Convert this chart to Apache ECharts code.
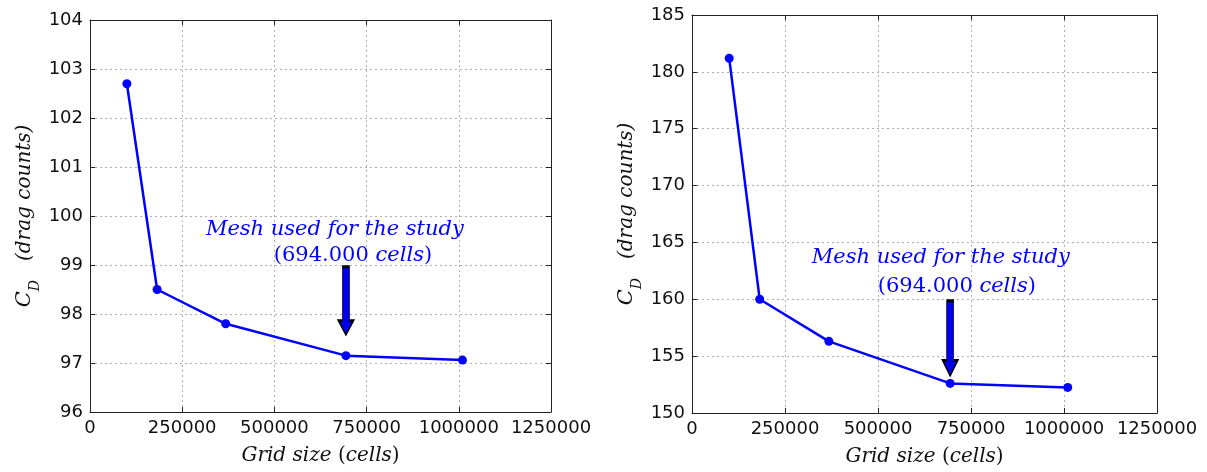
<!DOCTYPE html>
<html>
<head>
<meta charset="utf-8">
<script src="https://cdn.jsdelivr.net/npm/echarts@6/dist/echarts.min.js"></script>
<style>
html, body { margin: 0; padding: 0; background: #fff; }
#chart { width: 1207px; height: 472px; }
</style>
</head>
<body>
<div id="chart"></div>
<script>
const SANS = '"DejaVu Sans", sans-serif';
const SERIF = '"DejaVu Serif", serif';
const BLUE = '#0000ff';

// grid sizes (cells) shared by both studies
const gridSize = [100000, 182000, 368000, 694000, 1010000];
const cdLeft = [102.7, 98.5, 97.8, 97.15, 97.06];
const cdRight = [181.2, 160.0, 156.3, 152.6, 152.25];

const xRange = [0, 1250000, 250000];
const leftRange = [96, 104, 1];
const rightRange = [150, 185, 5];

// annotation anchors, in data units: [x, y]
const meshCells = 694000;
const leftNote1 = [664000, 99.73];
const leftNote2 = [713000, 99.2];
const leftArrow = [meshCells, 98.27];
const rightNote1 = [669000, 163.63];
const rightNote2 = [712000, 161.08];
const rightArrow = [meshCells, 156.56];

const ARROW = 'path://M4,0 L11,0 L11,54 L15,54 L7.5,68 L0,54 L4,54 Z';

const richNote = {
  i: { fontFamily: SERIF, fontStyle: 'italic', fontSize: 21, color: BLUE },
  n: { fontFamily: SERIF, fontSize: 21, color: BLUE },
};

function notes(n1, n2, arrow, arrowH) {
  const textPt = (coord, txt) => ({
    coord, symbol: 'circle', symbolSize: 0,
    label: { show: true, position: 'inside', formatter: txt, rich: richNote },
  });
  return {
    silent: true,
    data: [
      textPt(n1, '{i|Mesh used for the study}'),
      textPt(n2, '{n|(694.000 }{i|cells}{n|)}'),
      {
        coord: arrow, symbol: ARROW, symbolSize: [15, arrowH], symbolKeepAspect: false,
        itemStyle: { color: '#0000ee', borderColor: '#000', borderWidth: 1.4 },
        label: { show: false },
      },
    ],
  };
}

function zip(xs, ys) { return xs.map((x, i) => [x, ys[i]]); }

const grids = [
  { left: 90, top: 20, width: 461, height: 392 },
  { left: 692, top: 15, width: 465, height: 398 },
];

const plain = v => String(v);

function mainX(gi) {
  return {
    type: 'value', gridIndex: gi, min: xRange[0], max: xRange[1], interval: xRange[2],
    name: '{i|Grid size }{n|(}{i|cells}{n|)}',
    nameLocation: 'middle', nameGap: 34,
    nameTextStyle: { rich: {
      i: { fontFamily: SERIF, fontStyle: 'italic', fontSize: 20, color: '#111' },
      n: { fontFamily: SERIF, fontSize: 20, color: '#111' },
    } },
    axisLine: { show: true, onZero: false, lineStyle: { color: '#222', width: 1 } },
    axisTick: { show: true, inside: true, length: 5, lineStyle: { color: '#222' } },
    axisLabel: { fontFamily: SANS, fontSize: 18, color: '#111', margin: 7, formatter: plain, showMinLabel: true, showMaxLabel: true },
    splitLine: { show: true, lineStyle: { color: '#b0b0b0', type: [2, 3], width: 1 } },
  };
}
function sideX(gi) {
  return {
    type: 'value', gridIndex: gi, position: 'top', min: xRange[0], max: xRange[1], interval: xRange[2],
    axisLine: { show: true, onZero: false, lineStyle: { color: '#222', width: 1 } },
    axisTick: { show: true, inside: true, length: 5, lineStyle: { color: '#222' } },
    axisLabel: { show: false }, splitLine: { show: false },
  };
}
function mainY(gi, r) {
  return {
    type: 'value', gridIndex: gi, min: r[0], max: r[1], interval: r[2],
    name: '{c|C}{d|D}{t|   (drag counts)}',
    nameLocation: 'middle', nameRotate: 90, nameGap: 52,
    nameTextStyle: { rich: {
      c: { fontFamily: SERIF, fontStyle: 'italic', fontSize: 21, color: '#111', lineHeight: 26 },
      d: { fontFamily: SERIF, fontStyle: 'italic', fontSize: 14, color: '#111', lineHeight: 26, verticalAlign: 'bottom', padding: [0, 0, -4, 0] },
      t: { fontFamily: SERIF, fontStyle: 'italic', fontSize: 20, color: '#111', lineHeight: 26 },
    } },
    axisLine: { show: true, onZero: false, lineStyle: { color: '#222', width: 1 } },
    axisTick: { show: true, inside: true, length: 5, lineStyle: { color: '#222' } },
    axisLabel: { fontFamily: SANS, fontSize: 18, color: '#111', margin: 7, formatter: plain, showMinLabel: true, showMaxLabel: true },
    splitLine: { show: true, lineStyle: { color: '#b0b0b0', type: [2, 3], width: 1 } },
  };
}
function sideY(gi, r) {
  return {
    type: 'value', gridIndex: gi, position: 'right', min: r[0], max: r[1], interval: r[2],
    axisLine: { show: true, onZero: false, lineStyle: { color: '#222', width: 1 } },
    axisTick: { show: true, inside: true, length: 5, lineStyle: { color: '#222' } },
    axisLabel: { show: false }, splitLine: { show: false },
  };
}

function lineSeries(idx, ys, note) {
  return {
    type: 'line', xAxisIndex: idx, yAxisIndex: idx,
    data: zip(gridSize, ys),
    symbol: 'circle', symbolSize: 9,
    lineStyle: { color: BLUE, width: 2.5 },
    itemStyle: { color: BLUE },
    z: 3,
    markPoint: note,
  };
}

const chart = echarts.init(document.getElementById('chart'), null, { renderer: 'canvas' });
chart.setOption({
  animation: false,
  backgroundColor: '#fff',
  grid: grids,
  xAxis: [mainX(0), mainX(1), sideX(0), sideX(1)],
  yAxis: [mainY(0, leftRange), mainY(1, rightRange), sideY(0, leftRange), sideY(1, rightRange)],
  series: [
    lineSeries(0, cdLeft, notes(leftNote1, leftNote2, leftArrow, 68)),
    lineSeries(1, cdRight, notes(rightNote1, rightNote2, rightArrow, 75)),
  ],
});
</script>
</body>
</html>
